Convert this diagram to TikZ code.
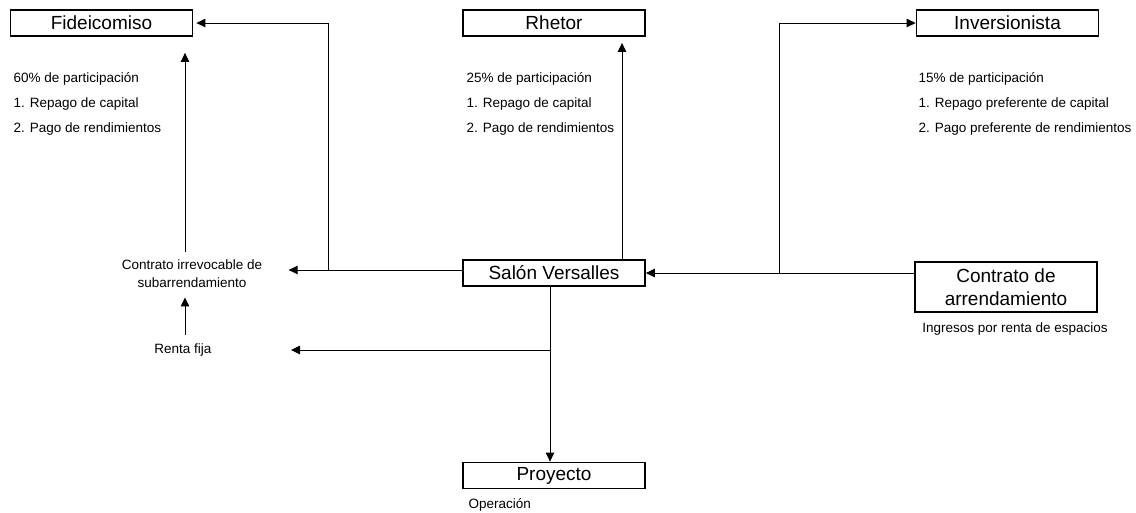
\documentclass[tikz,border=0pt]{standalone}
\usepackage{fontspec}
\setmainfont{Liberation Sans}
\usetikzlibrary{arrows.meta}
\tikzset{
  caja/.style={draw, line width=1.8pt, minimum width=182pt, minimum height=26pt,
    inner sep=0pt, font=\fontsize{19}{23}\selectfont},
  nota/.style={inner sep=0pt, font=\fontsize{13.5}{18}\selectfont},
}
\begin{document}
\begin{tikzpicture}[x=1pt, y=-1pt, >={Triangle[length=9pt,width=8.5pt]}, line width=1pt]
  \useasboundingbox (0,0) rectangle (1136,512);
  % cajas
  \node[caja] (fid) at (101.5,23) {Fideicomiso};
  \node[caja] (rhetor) at (554,23) {Rhetor};
  \node[caja] (inv) at (1007.5,23) {Inversionista};
  \node[caja] (salon) at (554,273) {Salón Versalles};
  \node[caja] (proy) at (554,475.5) {Proyecto};
  \node[caja, minimum height=50pt, align=center] (contrato) at (1006,287)
    {Contrato de\\arrendamiento};
  % notas
  \node[nota, anchor=base west] (fid1) at (13,82) {60\% de participación};
  \node[nota, anchor=base west] (fid2) at (13,107) {1. Repago de capital};
  \node[nota, anchor=base west] (fid3) at (13,132) {2. Pago de rendimientos};
  \node[nota, anchor=base west] (rh1) at (466,82) {25\% de participación};
  \node[nota, anchor=base west] (rh2) at (466,107) {1. Repago de capital};
  \node[nota, anchor=base west] (rh3) at (466,132) {2. Pago de rendimientos};
  \node[nota, anchor=base west] (inv1) at (918,82) {15\% de participación};
  \node[nota, anchor=base west] (inv2) at (918,107) {1. Repago preferente de capital};
  \node[nota, anchor=base west] (inv3) at (918,132) {2. Pago preferente de rendimientos};
  \node[nota, align=center] (irrev) at (192,274) {Contrato irrevocable de\\subarrendamiento};
  \node[nota] (renta) at (183,350) {Renta fija};
  \node[nota] (ingresos) at (1015,329) {Ingresos por renta de espacios};
  \node[nota, anchor=west] (oper) at (468,505) {Operación};
  % flechas
  \coordinate (j1) at (328,270);
  \coordinate (j2) at (779,273);
  \coordinate (j3) at (550,350);
  \draw[->, shorten >=26pt] ([yshift=3pt]salon.west) -- ([yshift=4pt]irrev.east);
  \draw[->, shorten >=3pt] (j1) |- (fid.east);
  \draw[->, shorten <=8pt, shorten >=16pt] (185,0 |- irrev.north) -- (185,0 |- fid.south);
  \draw[->, shorten <=8pt, shorten >=9pt] (185,0 |- renta.north) -- (185,0 |- irrev.south);
  \draw[->, shorten >=6pt] (622,0 |- salon.north) -- (622,0 |- rhetor.south);
  \draw[->] ([yshift=14pt]contrato.west) -- (salon.east);
  \draw[->] (j2) |- (inv.west);
  \draw[->] (550,0 |- salon.south) -- (550,0 |- proy.north);
  \draw[->, shorten >=79pt] (j3) -- (renta.east);
\end{tikzpicture}
\end{document}
